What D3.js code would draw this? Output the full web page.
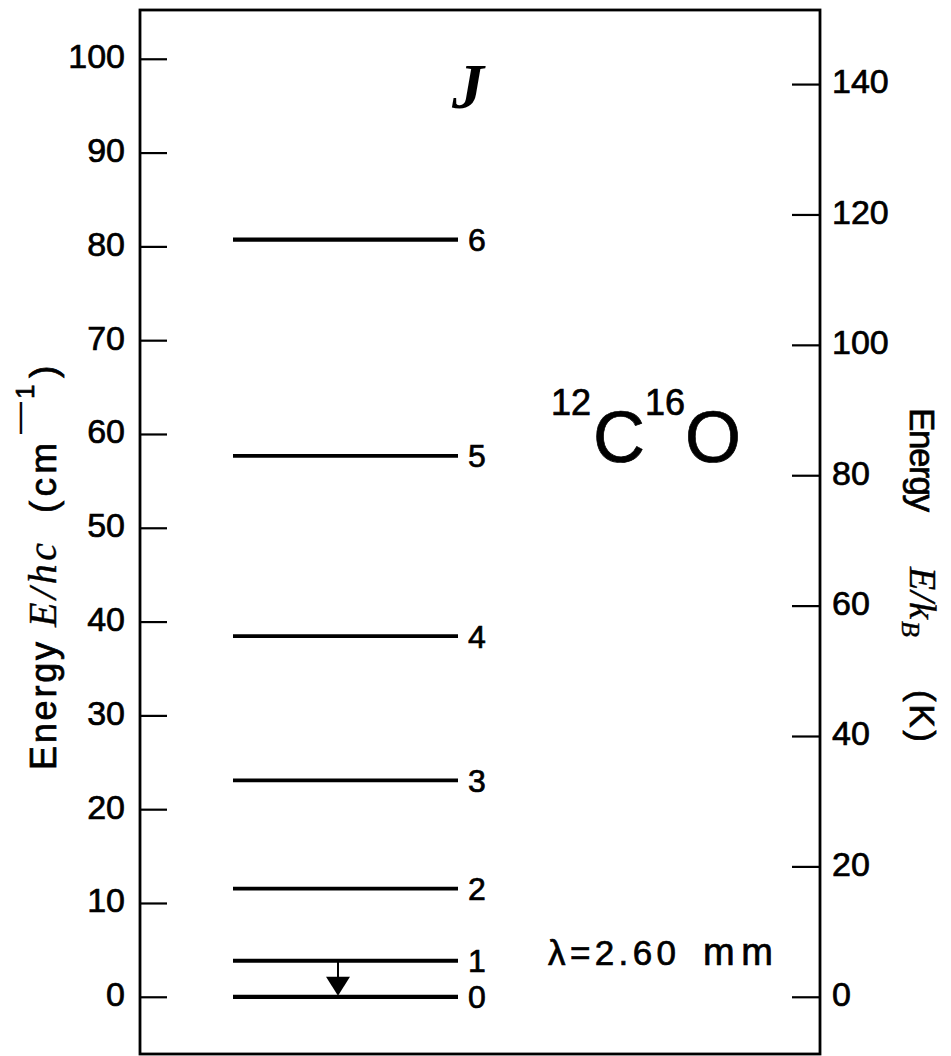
<!DOCTYPE html>
<html><head><meta charset="utf-8">
<script src="https://cdn.jsdelivr.net/npm/d3@7"></script>
<style>body{margin:0;background:#fff}svg{display:block}</style>
</head><body>
<script>
const levelJ = [0, 1, 2, 3, 4, 5, 6];
const levelEnergy = [0, 3.84, 11.53, 23.07, 38.45, 57.67, 80.73]; // cm^-1
const leftTicks = [0, 10, 20, 30, 40, 50, 60, 70, 80, 90, 100];
const rightTicks = [0, 20, 40, 60, 80, 100, 120, 140];
const cmToK = 1.4388;
const transition = {from: 1, to: 0, label: ["λ=2.60", "mm"]};

const W = 951, H = 1056;
const L = 140, R = 820, T = 10, B = 1054;
const svg = d3.select("body").append("svg").attr("width", W).attr("height", H);
const dom = [-6.1, 105.2];
const yL = d3.scaleLinear().domain(dom).range([B, T]);
const yR = d3.scaleLinear().domain(dom.map(d => d * cmToK)).range([B, T]);
const sans = "'Liberation Sans', Arial, sans-serif";
const serif = "'Liberation Serif', 'Times New Roman', serif";
const thick = (sel, w = 0.7) => sel.attr("stroke", "#000").attr("stroke-width", w);

// frame
svg.append("rect").attr("x", L).attr("y", T).attr("width", R - L).attr("height", B - T)
  .attr("fill", "none").attr("stroke", "#000").attr("stroke-width", 2.8);

const gl = svg.append("g").attr("transform", `translate(${L},0)`)
  .call(d3.axisLeft(yL).tickValues(leftTicks).tickSizeInner(-27).tickSizeOuter(0).tickPadding(15));
const gr = svg.append("g").attr("transform", `translate(${R},0)`)
  .call(d3.axisRight(yR).tickValues(rightTicks).tickSizeInner(-28).tickSizeOuter(0).tickPadding(12));
[gl, gr].forEach(g => {
  g.select(".domain").remove();
  g.selectAll(".tick line").attr("stroke", "#000").attr("stroke-width", 2.2);
  g.selectAll(".tick text").attr("font-family", sans).attr("font-size", 34).attr("fill", "#000")
    .attr("dy", "0.26em").call(thick);
});

// levels
const x1 = 233, x2 = 458;
svg.selectAll(".lvl").data(levelJ).enter().append("line")
  .attr("x1", x1).attr("x2", x2)
  .attr("y1", (d, i) => yL(levelEnergy[i])).attr("y2", (d, i) => yL(levelEnergy[i]))
  .attr("stroke", "#000").attr("stroke-width", (d) => (d <= 1 || d === 6) ? 4.2 : 3.6);
svg.selectAll(".lbl").data(levelJ).enter().append("text")
  .attr("x", 468).attr("y", (d, i) => yL(levelEnergy[i])).attr("dy", "0.36em")
  .attr("font-family", sans).attr("font-size", 32).text(d => d).call(thick);

// transition arrow
const ax = 338;
const yA = yL(levelEnergy[transition.from]), yB = yL(levelEnergy[transition.to]);
svg.append("line").attr("x1", ax).attr("x2", ax).attr("y1", yA).attr("y2", yB - 18)
  .attr("stroke", "#000").attr("stroke-width", 2);
svg.append("path").attr("d", `M${ax - 12},${yB - 20} L${ax + 12},${yB - 20} L${ax},${yB - 1} Z`).attr("fill", "#000");

svg.append("text").attr("x", 548).attr("y", 965).attr("font-family", sans).attr("font-size", 35)
  .attr("textLength", 128).attr("lengthAdjust", "spacing").text(transition.label[0]).call(thick);
svg.append("text").attr("x", 703).attr("y", 965).attr("font-family", sans).attr("font-size", 38)
  .attr("textLength", 70).attr("lengthAdjust", "spacing").text(transition.label[1]).call(thick);

// J heading
svg.append("text").attr("x", 452).attr("y", 108).attr("font-family", serif)
  .attr("font-style", "italic").attr("font-weight", "bold").attr("font-size", 64).text("J");

// molecule label
const mol = svg.append("text").attr("x", 551).attr("y", 462).attr("font-family", sans)
  .attr("font-size", 72).call(thick);
mol.append("tspan").attr("font-size", 36).attr("dy", -47).text("12");
mol.append("tspan").attr("dy", 47).attr("dx", 2).text("C");
mol.append("tspan").attr("font-size", 36).attr("dy", -47).text("16");
mol.append("tspan").attr("dy", 47).text("O");

// left axis title (rotated, reads bottom to top)
const lg = svg.append("g").attr("transform", "translate(56,0) rotate(-90)");
const ltxt = (x, len, s, opts = {}) => {
  const t = lg.append("text").attr("x", -x).attr("y", opts.dy || 0)
    .attr("font-family", opts.serif ? serif : sans).attr("font-size", opts.size || 35)
    .attr("font-style", opts.serif ? "italic" : null).text(s).call(thick, opts.serif ? 0.4 : (opts.w ?? 0.7));
  if (len) t.attr("textLength", len).attr("lengthAdjust", "spacing");
};
ltxt(770, 128, "Energy", {size: 36});
ltxt(627, 84, "E/hc", {serif: true, size: 40});
ltxt(513, 70, "(cm", {size: 37});
ltxt(434, null, "—", {size: 32, dy: -27, w: 0.2});
ltxt(399, null, "1", {size: 26, dy: -22});
ltxt(378, null, ")", {size: 37});

// right axis title (rotated, reads top to bottom)
const rg = svg.append("g").attr("transform", "translate(910,0) rotate(90)");
const rtxt = (x, len, s, opts = {}) => {
  const t = rg.append("text").attr("x", x).attr("y", opts.dy || 0)
    .attr("font-family", opts.serif ? serif : sans).attr("font-size", opts.size || 35)
    .attr("font-style", opts.serif ? "italic" : null).text(s).call(thick, opts.serif ? 0.4 : 0.7);
  if (len) t.attr("textLength", len).attr("lengthAdjust", "spacing");
};
rtxt(408, 104, "Energy");
rtxt(567, 52, "E/k", {serif: true, size: 38});
rtxt(621, null, "B", {serif: true, size: 26, dy: 8});
rtxt(690, 52, "(K)");
</script>
</body></html>
